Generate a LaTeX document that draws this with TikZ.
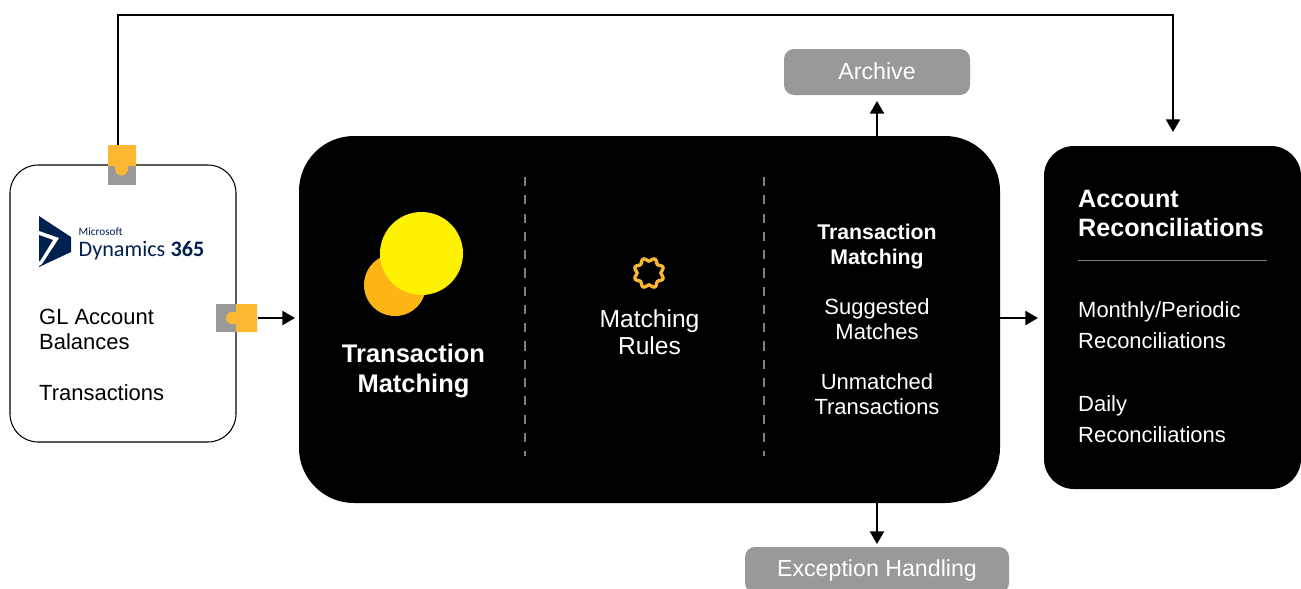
\documentclass[tikz,border=0pt]{standalone}
\usepackage{fontspec}
\setmainfont{Liberation Sans}
\newfontfamily\logofont{Carlito}
\usetikzlibrary{arrows.meta}
\definecolor{pinyellow}{HTML}{FDB833}
\definecolor{pingray}{HTML}{999999}
\definecolor{dotyellow}{HTML}{FFF200}
\definecolor{dotorange}{HTML}{FDB515}
\definecolor{logonavy}{HTML}{002050}
\tikzset{
	flow/.style={draw=black, line width=0.6pt, -{Triangle[length=3.6pt,width=4pt]}},
	blackbox/.style={fill=black, inner sep=0pt},
	graybox/.style={fill=pingray, rounded corners=0.1cm, text=white, inner sep=0pt, minimum height=0.46cm, font=\fontsize{6.6}{8}\selectfont},
	pin/.style={fill=pingray, inner sep=0pt},
	whitetext/.style={text=white, inner sep=0pt, align=center},
	sidetext/.style={text=black, inner sep=0pt, align=left, anchor=west, font=\fontsize{6.25}{7.1}\selectfont},
	divider/.style={draw=gray, line width=0.35pt, dash pattern=on 2.6pt off 2.6pt},
}
\begin{document}
\begin{tikzpicture}
	\clip (0,0) rectangle (13.01,5.88);
	\fill[white] (0,0) rectangle (13.01,5.88);

	% boxes
	\node[draw=black, line width=0.3pt, fill=white, rounded corners=0.28cm, inner sep=0pt, minimum width=2.26cm, minimum height=2.77cm] (source) at (1.23,2.845) {};
	\node[blackbox, rounded corners=0.55cm, minimum width=7.01cm, minimum height=3.67cm] (match) at (6.495,2.685) {};
	\node[blackbox, rounded corners=0.3cm, minimum width=2.57cm, minimum height=3.43cm] (recon) at (11.725,2.705) {};
	\node[graybox, minimum width=1.86cm] (archive) at (8.77,5.16) {\raisebox{0.25pt}{Archive}};
	\node[graybox, minimum width=2.64cm] (exception) at (8.77,0.18) {Exception Handling};

	% connector pins
	\node[pin, minimum width=0.28cm, minimum height=0.40cm] (pinTop) at (1.22,4.23) {};
	\fill[pinyellow] (1.08,4.43) -- (1.36,4.43) -- (1.36,4.22) -- (1.28,4.22) -- (1.28,4.19) arc (0:-180:0.065) -- (1.15,4.22) -- (1.08,4.22) -- cycle;
	\node[pin, minimum width=0.41cm, minimum height=0.28cm] (pinRight) at (2.365,2.70) {};
	\fill[pinyellow] (2.57,2.84) -- (2.36,2.84) -- (2.36,2.76) -- (2.32,2.76) arc (90:270:0.06) -- (2.36,2.64) -- (2.36,2.56) -- (2.57,2.56) -- cycle;

	% free ends of the arrows
	\coordinate (topOut) at (1.18,4.43);
	\coordinate (topBend) at (11.73,5.73);
	\coordinate (reconTop) at (11.73,4.56);
	\coordinate (matchIn) at (2.95,2.70);
	\coordinate (matchOut) at (10.00,2.70);
	\coordinate (reconIn) at (10.38,2.70);
	\coordinate (archiveOut) at (8.77,4.52);
	\coordinate (archiveIn) at (8.77,4.87);
	\coordinate (exceptionOut) at (8.77,0.85);
	\coordinate (exceptionIn) at (8.77,0.44);

	\draw[flow] (topOut) |- (topBend) -- (reconTop);
	\draw[flow] (pinRight.east) -- (matchIn);
	\draw[flow] (matchOut) -- (reconIn);
	\draw[flow] (archiveOut) -- (archiveIn);
	\draw[flow] (exceptionOut) -- (exceptionIn);

	% logo
	\fill[logonavy] (0.39,3.72) -- (0.71,3.51) -- (0.71,3.36) -- (0.39,3.21) -- cycle;
	\fill[white] (0.39,3.57) -- (0.59,3.50) -- (0.42,3.24) -- (0.39,3.22) -- cycle;
	\fill[logonavy] (0.39,3.53) -- (0.53,3.48) -- (0.40,3.27) -- (0.39,3.27) -- cycle;
	\node[text=logonavy, anchor=base west, inner sep=0pt, font=\logofont\fontsize{3.2}{4}\selectfont] (logoTop) at (0.78,3.53) {Microsoft};
	\node[text=logonavy, anchor=base west, inner sep=0pt, font=\logofont\fontsize{6.3}{7}\selectfont] (logoName) at (0.78,3.32) {Dynamics};
	\node[text=logonavy, anchor=base west, inner sep=0pt, font=\logofont\bfseries\fontsize{6.3}{7}\selectfont] (logoNum) at (1.70,3.32) {365};

	% left box
	\node[sidetext] (balances) at (0.385,2.59) {GL Account\\Balances};
	\node[sidetext] (transactions) at (0.385,1.95) {Transactions};

	% middle box
	\fill[dotorange] (3.95,3.03) circle (0.31);
	\fill[dotyellow] (4.215,3.345) circle (0.415);
	\node[whitetext, font=\bfseries\fontsize{7.25}{8.5}\selectfont] (matchTitle) at (4.135,2.17) {Transaction\\Matching};
	\draw[divider] (5.25,4.11) -- (5.25,1.32);
	\draw[divider] (7.64,4.11) -- (7.64,1.32);
	\draw[pinyellow, line width=0.95pt] plot[smooth cycle, samples=72, domain=0:355] ({6.49+(0.135-0.016*cos(8*\x))*cos(\x)},{3.15+(0.135-0.016*cos(8*\x))*sin(\x)});
	\node[whitetext, font=\fontsize{7}{7.7}\selectfont] (rules) at (6.495,2.56) {Matching\\Rules};
	\node[whitetext, font=\bfseries\fontsize{6.05}{7.1}\selectfont] (resultTitle) at (8.77,3.41) {Transaction\\Matching};
	\node[whitetext, font=\fontsize{6.25}{7.1}\selectfont] (suggested) at (8.77,2.69) {Suggested\\Matches};
	\node[whitetext, font=\fontsize{6.25}{7.1}\selectfont] (unmatched) at (8.77,1.94) {Unmatched\\Transactions};

	% right box
	\node[whitetext, align=left, anchor=west, font=\bfseries\fontsize{7.15}{8.25}\selectfont] (reconTitle) at (10.775,3.745) {Account\\Reconciliations};
	\draw[draw=gray, line width=0.25pt] (10.78,3.28) -- (12.67,3.28);
	\node[whitetext, align=left, anchor=west, font=\fontsize{6.25}{8.8}\selectfont] (monthly) at (10.775,2.63) {Monthly/Periodic\\Reconciliations};
	\node[whitetext, align=left, anchor=west, font=\fontsize{6.25}{8.8}\selectfont] (daily) at (10.775,1.69) {Daily\\Reconciliations};
\end{tikzpicture}
\end{document}
